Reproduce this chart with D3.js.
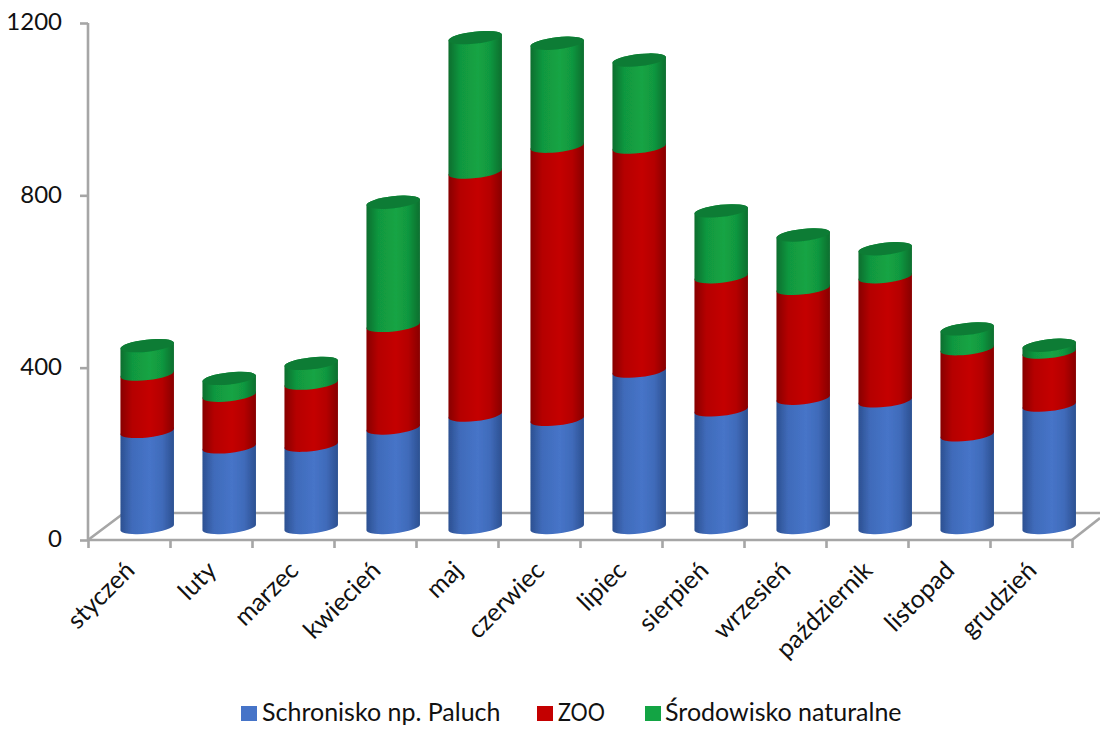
<!DOCTYPE html>
<html><head><meta charset="utf-8">
<script src="https://cdn.jsdelivr.net/npm/d3@7"></script>
<style>html,body{margin:0;padding:0;background:#fff}svg{display:block}text{font-family:Lato,"Open Sans",sans-serif;fill:#111}</style>
</head><body><svg id="c" width="1100" height="729"></svg>
<script>
const categories=["styczeń","luty","marzec","kwiecień","maj","czerwiec","lipiec","sierpień","wrzesień","październik","listopad","grudzień"];
const seriesNames=["Schronisko np. Paluch","ZOO","Środowisko naturalne"];
const paluch=[223,187,191,231,261,251,363,273,300,294,215,284];
const zoo=[133,120,144,238,564,634,520,309,255,288,200,123];
const naturalne=[66,39,46,286,312,239,202,153,124,65,46,16];
const yTicks=[0,400,800,1200];
const mid=["#4674c8","#c40000","#13a444"], edge=["#2c5091","#870000","#0c6e2e"], lid=["#2c5091","#870000","#107c34"];

const svg=d3.select("#c"), grey="#a6a6a6";
const x=d3.scaleBand().domain(categories).range([88,1072]);
const y=d3.scaleLinear().domain([0,1200]).range([540,23]);
const depthX=18.2, depthY=-12.5, bw=53.5, tilt=3, ry=6;
const rx=Math.hypot(bw,2*tilt)/2, rot=-Math.atan2(2*tilt,bw)*180/Math.PI;

// gradients
const defs=svg.append("defs");
mid.forEach((m,i)=>{
  const g=defs.append("linearGradient").attr("id","g"+i);
  [[0,edge[i]],[.22,d3.interpolateRgb(edge[i],m)(.75)],[.55,m],[.78,d3.interpolateRgb(edge[i],m)(.75)],[1,edge[i]]]
   .forEach(s=>g.append("stop").attr("offset",s[0]).attr("stop-color",s[1]));
});
defs.append("filter").attr("id","soft").append("feGaussianBlur").attr("stdDeviation",.5);

// floor
const back=y(0)-27;
const axisG=svg.append("g").attr("stroke",grey).attr("stroke-width",2.6).attr("fill","none");
axisG.append("path").attr("d",`M88,${y(0)}L${88+36},${back}L1100,${back}`);
axisG.append("path").attr("d",`M1072,${y(0)}L1100,${y(0)-22}`);

// y axis
const ya=svg.append("g").attr("transform","translate(88,0)").call(d3.axisLeft(y).tickValues(yTicks).tickSize(8).tickPadding(18).tickFormat(d3.format("d")));
ya.selectAll("path,line").attr("stroke",grey).attr("stroke-width",2.6);
ya.select(".domain").attr("d",`M0,${y(1200)}V${y(0)}`);
ya.selectAll("text").attr("font-size",24).attr("font-family","Lato").attr("dy","0.28em").attr("dx",0).attr("fill","#111");

// x axis (ticks on category edges)
const edges=d3.scaleLinear().domain([0,categories.length]).range(x.range());
const xa=svg.append("g").attr("transform",`translate(0,${y(0)})`).call(d3.axisBottom(edges).tickValues(d3.range(categories.length+1)).tickSize(8).tickFormat(""));
xa.selectAll("path,line").attr("stroke",grey).attr("stroke-width",2.6);
xa.select(".domain").attr("d",`M88,0H1072`);

// cylinders
const bars=svg.append("g").attr("filter","url(#soft)");
const series=[paluch,zoo,naturalne];
categories.forEach((c,i)=>{
  const x0=x(c)+x.bandwidth()/2+depthX-bw/2, x1=x0+bw;
  let acc=0;
  const Y=v=>y(v)+depthY;
  series.forEach((s,k)=>{
    const yb=Y(acc); acc+=s[i]; const yt=Y(acc);
    bars.append("path").attr("fill",`url(#g${k})`)
      .attr("d",`M${x0},${yb+tilt}A${rx},${ry} ${rot} 0 0 ${x1},${yb-tilt}L${x1},${yt-tilt}A${rx},${ry} ${rot} 0 0 ${x0},${yt+tilt}Z`);
  });
  const yt=Y(acc);
  bars.append("path").attr("fill",lid[2])
    .attr("d",`M${x0},${yt+tilt}A${rx},${ry} ${rot} 1 1 ${x1},${yt-tilt}A${rx},${ry} ${rot} 1 1 ${x0},${yt+tilt}Z`);
});

// category labels
svg.append("g").selectAll("text").data(categories).join("text")
  .attr("text-anchor","end").attr("font-size",25)
  .attr("transform",d=>`translate(${x(d)+x.bandwidth()/2+7},${y(0)+32}) rotate(-45)`)
  .text(d=>d);

// legend
const legX=[241,537,645], txtX=[262,558,665];
const leg=svg.append("g");
seriesNames.forEach((n,i)=>{
  leg.append("rect").attr("x",legX[i]).attr("y",706).attr("width",16).attr("height",15).attr("fill",mid[i]);
  const t=leg.append("text").attr("x",txtX[i]).attr("y",721).attr("font-size",25).text(n);
  if(n==="ZOO") t.attr("textLength",47).attr("lengthAdjust","spacingAndGlyphs");
});
</script></body></html>
